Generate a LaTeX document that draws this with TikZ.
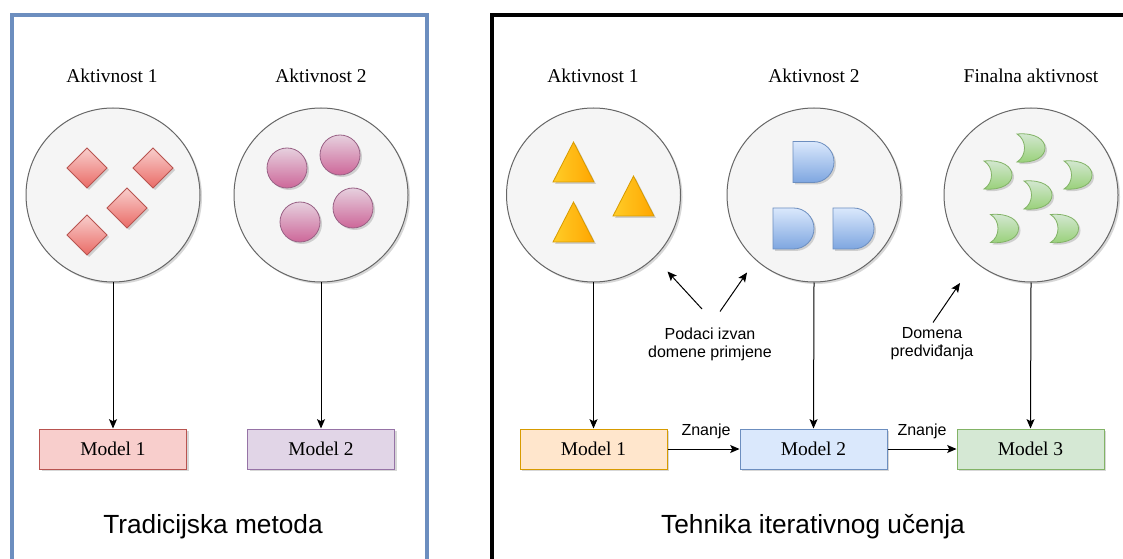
\documentclass[tikz,border=0pt]{standalone}
\usepackage{fontspec}
\setmainfont{Liberation Serif}
\setsansfont{Liberation Sans}
\usetikzlibrary{arrows.meta,shadows}
\definecolor{cfill}{HTML}{F5F5F5}
\definecolor{cstroke}{HTML}{666666}
\definecolor{redA}{HTML}{F8CECC}
\definecolor{redB}{HTML}{EA6B66}
\definecolor{redS}{HTML}{B85450}
\definecolor{pinkA}{HTML}{E6D0DE}
\definecolor{pinkB}{HTML}{CD6799}
\definecolor{pinkS}{HTML}{996185}
\definecolor{orA}{HTML}{FFCD28}
\definecolor{orB}{HTML}{FFA500}
\definecolor{orS}{HTML}{D79B00}
\definecolor{blA}{HTML}{DAE8FC}
\definecolor{blB}{HTML}{7EA6E0}
\definecolor{blS}{HTML}{6C8EBF}
\definecolor{grA}{HTML}{D5E8D4}
\definecolor{grB}{HTML}{97D077}
\definecolor{grS}{HTML}{82B366}
\definecolor{puA}{HTML}{E1D5E7}
\definecolor{puS}{HTML}{9673A6}
\definecolor{orL}{HTML}{FFE6CC}
\tikzset{
  shd/.style={drop shadow={shadow xshift=1.5pt,shadow yshift=-1.5pt,opacity=0.22,fill=black!70}},
  actcircle/.style={circle,draw=cstroke,fill=cfill,line width=0.75pt,minimum size=130.5pt,inner sep=0pt,shd},
  acttitle/.style={font=\fontsize{14.6}{16}\selectfont,anchor=base},
  modelbox/.style={draw,line width=0.75pt,minimum width=110.25pt,minimum height=30pt,inner sep=0pt,font=\fontsize{14.6}{16}\selectfont,shd},
  bigtitle/.style={font=\sffamily\fontsize{19.7}{22}\selectfont,anchor=base},
  smalltxt/.style={font=\sffamily\fontsize{12}{13.5}\selectfont,align=center,inner sep=0pt},
  arr/.style={line width=0.75pt,-{Stealth[length=7pt,width=6pt,inset=1.5pt]}},
  diamst/.style={top color=redA,bottom color=redB,draw=redS,line width=0.6pt,shd},
  ballst/.style={top color=pinkA,bottom color=pinkB,draw=pinkS,line width=0.6pt,shd},
  trist/.style={left color=orA,right color=orB,draw=orS,line width=0.6pt,shd},
  deest/.style={top color=blA,bottom color=blB,draw=blS,line width=0.6pt,shd},
  moonst/.style={top color=grA,bottom color=grB,draw=grS,line width=0.6pt,shd},
}
\newcommand\rdiam[2]{\begin{scope}[shift={(#1,#2)}]\draw[diamst] (0,-20) -- (20,0) -- (0,20) -- (-20,0) -- cycle;\end{scope}}
\newcommand\pball[2]{\begin{scope}[shift={(#1,#2)}]\draw[ballst] (0,0) circle[radius=15pt];\end{scope}}
\newcommand\otri[2]{\begin{scope}[shift={(#1,#2)}]\draw[trist] (0,0) -- (20.5,40) -- (-20.5,40) -- cycle;\end{scope}}
\newcommand\bdee[2]{\begin{scope}[shift={(#1,#2)}]\draw[deest] (0,0) -- (20.5,0) .. controls (31.8,0) and (41,9.2) .. (41,20.5) .. controls (41,31.8) and (31.8,41) .. (20.5,41) -- (0,41) -- cycle;\end{scope}}
\newcommand\gmoon[2]{\begin{scope}[shift={(#1,#2)}]\draw[moonst] (0,0) .. controls (19,-1.5) and (28,6) .. (28,14) .. controls (28,22) and (19,29.5) .. (0,28) .. controls (10,22) and (10,6) .. (0,0) -- cycle;\end{scope}}
\begin{document}
\begin{tikzpicture}[x=0.75pt,y=-0.75pt]
\useasboundingbox (0,0) rectangle (1123,559);
\fill[white] (0,0) rectangle (1123,559);
\clip (0,0) rectangle (1123,559);
% frames
\draw[blS,line width=2.5pt] (12,15) rectangle (427,580);
\draw[black,line width=2.5pt] (492,15) rectangle (1140,580);
% ---------- left panel ----------
\node[acttitle] (la1) at (112,83) {Aktivnost 1};
\node[acttitle] (la2) at (321,83) {Aktivnost 2};
\node[actcircle] (lc1) at (113,195) {};
\node[actcircle] (lc2) at (321,195) {};
\rdiam{87}{168}\rdiam{153}{168}\rdiam{127}{208}\rdiam{87}{235}
\pball{287}{168}\pball{340}{155}\pball{300}{222}\pball{353}{208}
\node[modelbox,fill=redA,draw=redS] (lm1) at (113,449) {Model 1};
\node[modelbox,fill=puA,draw=puS] (lm2) at (321,449) {Model 2};
\draw[arr] (lc1.south) -- (lm1.north);
\draw[arr] (lc2.south) -- (lm2.north);
\node[bigtitle] (lt) at (213,533) {Tradicijska metoda};
% ---------- right panel ----------
\node[acttitle] (ra1) at (593,83) {Aktivnost 1};
\node[acttitle] (ra2) at (814,83) {Aktivnost 2};
\node[acttitle] (ra3) at (1031,83) {Finalna aktivnost};
\node[actcircle] (rc1) at (593.5,195) {};
\node[actcircle] (rc2) at (814,195) {};
\node[actcircle] (rc3) at (1031,195) {};
\otri{573.5}{142}\otri{633.5}{176}\otri{573.5}{202}
\bdee{793}{141.5}\bdee{773}{208}\bdee{833}{208}
\gmoon{1017}{134}\gmoon{984}{161}\gmoon{1064}{161}\gmoon{1024}{181}\gmoon{990.5}{214.5}\gmoon{1050.5}{214.5}
\node[modelbox,fill=orL,draw=orS] (rm1) at (593.5,449) {Model 1};
\node[modelbox,fill=blA,draw=blS] (rm2) at (813.5,449) {Model 2};
\node[modelbox,fill=grA,draw=grS] (rm3) at (1030.5,449) {Model 3};
\draw[arr] (rc1.south) -- (rm1.north);
\draw[arr] (rc2.south) -- (rm2.north);
\draw[arr] (rc3.south) -- (rm3.north);
\draw[arr] (rm1.east) -- (rm2.west);
\draw[arr] (rm2.east) -- (rm3.west);
\node[smalltxt,anchor=base] (z1) at (706,435.5) {Znanje};
\node[smalltxt,anchor=base] (z2) at (922,435.5) {Znanje};
\node[smalltxt] (pod) at (710,344) {Podaci izvan\\domene primjene};
\node[smalltxt] (dom) at (932,344) {Domena\\predviđanja};
\coordinate (p1s) at (702,309);
\coordinate (p1e) at (667.5,271.5);
\coordinate (p2s) at (720,311.5);
\coordinate (p2e) at (747,272.5);
\coordinate (d1s) at (933,322.5);
\coordinate (d1e) at (960,283);
\draw[arr] (p1s) -- (p1e);
\draw[arr] (p2s) -- (p2e);
\draw[arr] (d1s) -- (d1e);
\node[bigtitle] (rt) at (813,533) {Tehnika iterativnog učenja};
\end{tikzpicture}
\end{document}
